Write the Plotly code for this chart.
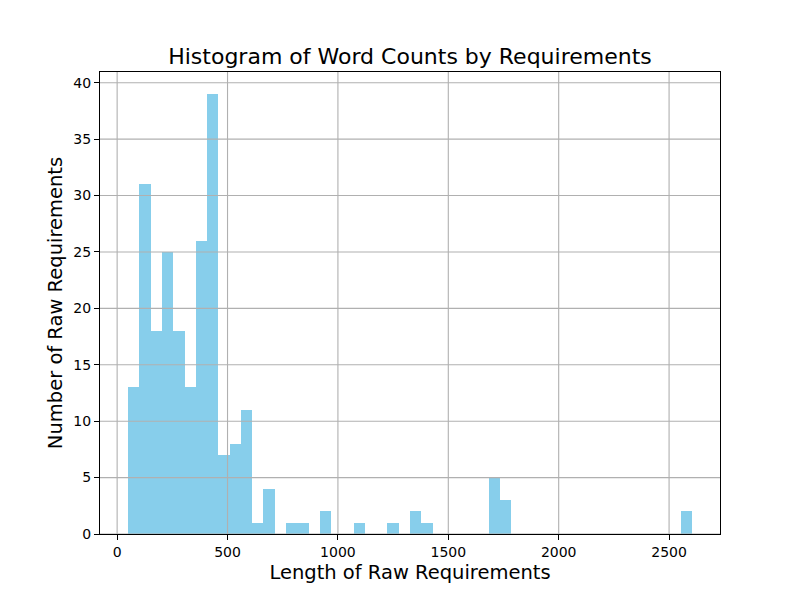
import plotly.graph_objects as go

# Histogram data (50 equal-width bins)
bin_start = 50.0
bin_end = 2603.0
bin_counts = [13, 31, 18, 25, 18, 13, 26, 39, 7, 8,
              11, 1, 4, 0, 1, 1, 0, 2, 0, 0,
              1, 0, 0, 1, 0, 2, 1, 0, 0, 0,
              0, 0, 5, 3, 0, 0, 0, 0, 0, 0,
              0, 0, 0, 0, 0, 0, 0, 0, 0, 2]
x_ticks = [0, 500, 1000, 1500, 2000, 2500]
y_ticks = [0, 5, 10, 15, 20, 25, 30, 35, 40]

n = len(bin_counts)
w = (bin_end - bin_start) / n
centers = [bin_start + w * (i + 0.5) for i in range(n)]

span = bin_end - bin_start
x_range = [bin_start - 0.05 * span, bin_end + 0.05 * span]
y_range = [0, max(bin_counts) * 1.05]

fig = go.Figure()
fig.add_trace(go.Bar(x=centers, y=bin_counts, width=[w] * n,
                     marker=dict(color="#87CEEB", line=dict(width=0)),
                     hoverinfo="x+y"))

grid_color = "#b0b0b0"
shapes = []
for t in x_ticks:
    shapes.append(dict(type="line", xref="x", yref="paper", x0=t, x1=t, y0=0, y1=1,
                       line=dict(color=grid_color, width=1.1), layer="above"))
for t in y_ticks:
    shapes.append(dict(type="line", xref="paper", yref="y", x0=0, x1=1, y0=t, y1=t,
                       line=dict(color=grid_color, width=1.1), layer="above"))

font = "DejaVu Sans, sans-serif"
# page body has an 8px margin, so the figure is sized/offset to compensate
fig.update_layout(
    width=792, height=592,
    margin=dict(l=92, r=80, t=64, b=66, autoexpand=False),
    paper_bgcolor="white", plot_bgcolor="white",
    bargap=0,
    showlegend=False,
    shapes=shapes,
    font=dict(family=font, color="black", size=14),
    title=dict(text="Histogram of Word Counts by Requirements",
               font=dict(family=font, size=22, color="black"),
               x=0.5, xref="paper", xanchor="center",
               y=1, yref="paper", yanchor="bottom", pad=dict(b=8)),
    xaxis=dict(range=x_range, tickvals=x_ticks, showgrid=False, zeroline=False,
               automargin=False,
               showline=True, linecolor="black", linewidth=1.1, mirror=True,
               ticks="outside", ticklen=5, tickwidth=1.1, tickcolor="black",
               tickfont=dict(size=14, family=font, color="black"),
               title=dict(text="Length of Raw Requirements",
                          font=dict(size=19.5, family=font, color="black"), standoff=6)),
    yaxis=dict(range=y_range, tickvals=y_ticks, showgrid=False, zeroline=False,
               automargin=False,
               showline=True, linecolor="black", linewidth=1.1, mirror=True,
               ticks="outside", ticklen=5, tickwidth=1.1, tickcolor="black",
               tickfont=dict(size=14, family=font, color="black"),
               title=dict(text="Number of Raw Requirements",
                          font=dict(size=19.5, family=font, color="black"), standoff=5)),
)

fig.write_html("out.html")
